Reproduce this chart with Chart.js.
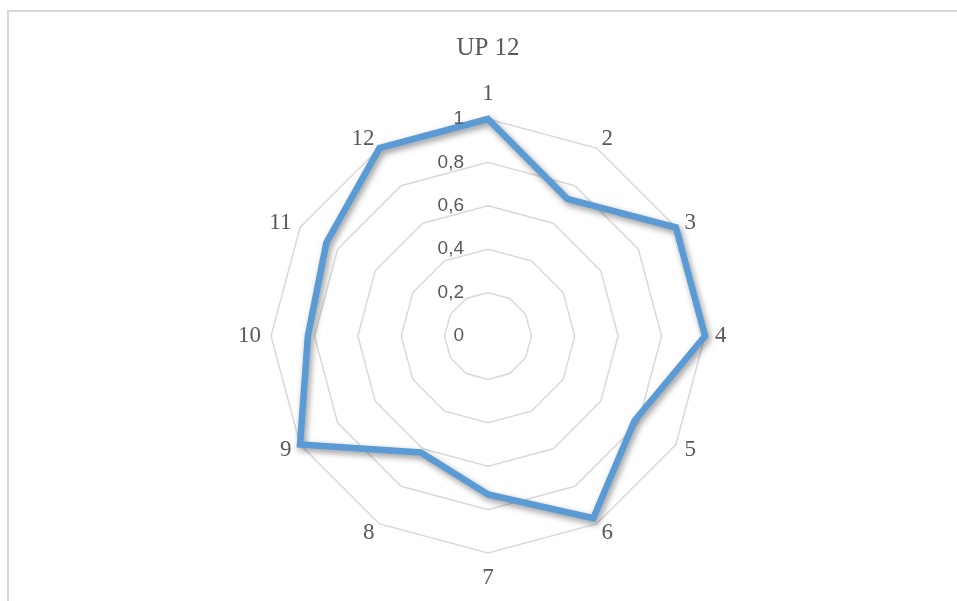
<!DOCTYPE html>
<html>
<head>
<meta charset="utf-8">
<title>UP 12</title>
<script src="https://cdn.jsdelivr.net/npm/chart.js@4/dist/chart.umd.min.js"></script>
<style>
  html, body { margin: 0; padding: 0; background: #fff; overflow: hidden; }
  #chart { display: block; }
</style>
</head>
<body>
<canvas id="chart" width="957" height="601"></canvas>
<script>
const chartTitle = 'UP 12';
const categories = ['1', '2', '3', '4', '5', '6', '7', '8', '9', '10', '11', '12'];
const values = [1, 0.73, 1, 1, 0.78, 0.97, 0.73, 0.62, 1, 0.83, 0.86, 1];
const tickLabels = ['0', '0,2', '0,4', '0,6', '0,8', '1'];

const textGray = '#595959';
const gridGray = '#d9d9d9';

// excel-like frame, only top and left edges are visible in the crop
const framePlugin = {
    id: 'frame',
    beforeDraw(chart) {
        const ctx = chart.ctx;
        ctx.save();
        ctx.fillStyle = gridGray;
        ctx.fillRect(7, 10, chart.width - 7, 2);
        ctx.fillRect(7, 10, 2, chart.height - 10);
        ctx.restore();
    }
};

// soft shadow under the line
const shadowPlugin = {
    id: 'lineShadow',
    beforeDatasetsDraw(chart) {
        const ctx = chart.ctx;
        ctx.save();
        ctx.shadowColor = 'rgba(0, 0, 0, 0.42)';
        ctx.shadowBlur = 6;
        ctx.shadowOffsetX = 2;
        ctx.shadowOffsetY = 3;
    },
    afterDatasetsDraw(chart) {
        chart.ctx.restore();
    }
};

// tick labels sit left of the vertical axis, point labels hug the outer ring
const labelsPlugin = {
    id: 'radarLabels',
    afterDraw(chart) {
        const ctx = chart.ctx;
        const scale = chart.scales.r;
        ctx.save();

        ctx.fillStyle = textGray;
        ctx.font = '19px "Liberation Sans", Arial, sans-serif';
        ctx.textAlign = 'right';
        ctx.textBaseline = 'middle';
        scale.ticks.forEach(t => {
            const d = scale.getDistanceFromCenterForValue(t.value);
            ctx.fillText(t.label, scale.xCenter - 24, scale.yCenter - d);
        });

        ctx.font = '23px "Liberation Serif", "Times New Roman", serif';
        chart.data.labels.forEach((label, i) => {
            const pos = scale.getPointPosition(i, scale.drawingArea + 10);
            const deg = Math.round(scale.getIndexAngle(i) * 180 / Math.PI) % 360;
            let y = pos.y;
            if (deg === 0) {
                ctx.textAlign = 'center';
                y -= 15;
            } else if (deg === 180) {
                ctx.textAlign = 'center';
                y += 15;
            } else if (deg < 180) {
                ctx.textAlign = 'left';
            } else {
                ctx.textAlign = 'right';
            }
            ctx.fillText(label, pos.x, y);
        });
        ctx.restore();
    }
};

const ctx = document.getElementById('chart').getContext('2d');
const chart = new Chart(ctx, {
    type: 'radar',
    data: {
        labels: categories,
        datasets: [{
            label: chartTitle,
            data: values,
            borderColor: '#5b9bd5',
            backgroundColor: 'transparent',
            borderWidth: 6.5,
            fill: false,
            pointRadius: 0,
            pointHoverRadius: 0,
            tension: 0
        }]
    },
    options: {
        responsive: false,
        animation: false,
        devicePixelRatio: 1,
        layout: {
            padding: { top: 0, bottom: 48, left: 60, right: 41 }
        },
        plugins: {
            legend: { display: false },
            tooltip: { enabled: false },
            title: {
                display: true,
                text: chartTitle,
                color: textGray,
                font: { family: '"Liberation Serif", "Times New Roman", serif', size: 25, weight: 'normal', lineHeight: 1.2 },
                padding: { top: 33, bottom: 56 }
            }
        },
        scales: {
            r: {
                min: 0,
                max: 1,
                ticks: {
                    stepSize: 0.2,
                    display: false,
                    callback: (v, i) => tickLabels[i]
                },
                grid: {
                    color: gridGray,
                    lineWidth: 1.5
                },
                angleLines: { display: false },
                pointLabels: { display: false }
            }
        }
    },
    plugins: [framePlugin, shadowPlugin, labelsPlugin]
});
</script>
</body>
</html>
